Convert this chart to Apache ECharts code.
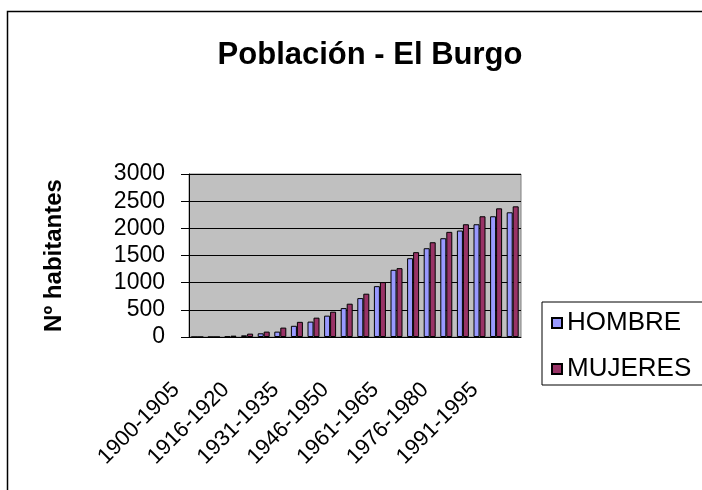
<!DOCTYPE html>
<html>
<head>
<meta charset="utf-8">
<script src="https://cdn.jsdelivr.net/npm/echarts@6/dist/echarts.min.js"></script>
<style>
    html, body { margin: 0; padding: 0; background: #fff; }
    #main { width: 702px; height: 490px; }
</style>
</head>
<body>
<div id="main"></div>
<script>
// periodos de 5 años
var periodos = ['1900-1905', '1906-1910', '1911-1915', '1916-1920', '1921-1925',
    '1926-1930', '1931-1935', '1936-1940', '1941-1945', '1946-1950',
    '1951-1955', '1956-1960', '1961-1965', '1966-1970', '1971-1975',
    '1976-1980', '1981-1985', '1986-1990', '1991-1995', '1996-2000'];
var hombre = [0, 0, 10, 31, 68, 99, 206, 283, 393, 532, 716, 936, 1237, 1450, 1634, 1818, 1959, 2075, 2222, 2295];
var mujeres = [0, 0, 25, 62, 99, 173, 279, 356, 466, 613, 797, 1010, 1267, 1561, 1744, 1935, 2075, 2222, 2368, 2405];

var font = 'Liberation Sans, Arial, sans-serif';

var myChart = echarts.init(document.getElementById('main'));
myChart.setOption({
    animation: false,
    title: {
        text: 'Población - El Burgo',
        left: 365,
        top: 35,
        textAlign: 'center',
        textStyle: { fontFamily: font, fontSize: 31, fontWeight: 'bold', color: '#000' }
    },
    graphic: [{
        type: 'rect',
        shape: { x: 7.5, y: 11.5, width: 720, height: 500 },
        style: { fill: 'none', stroke: '#000', lineWidth: 1.5 },
        silent: true
    }],
    legend: {
        orient: 'vertical',
        left: 542,
        top: 302,
        padding: [8, 40, 3, 9],
        itemGap: 20,
        itemWidth: 10,
        itemHeight: 10,
        icon: 'rect',
        borderColor: '#000',
        borderWidth: 1,
        textStyle: { fontFamily: font, fontSize: 26, lineHeight: 26, color: '#000' },
        data: ['HOMBRE', 'MUJERES']
    },
    grid: {
        left: 189,
        right: 181,
        top: 174,
        bottom: 153,
        show: true,
        backgroundColor: '#C0C0C0',
        borderColor: '#808080',
        borderWidth: 1
    },
    xAxis: {
        type: 'category',
        data: periodos,
        axisLine: { lineStyle: { color: '#000', width: 1 } },
        axisTick: { interval: 0, length: 7, lineStyle: { color: '#000' } },
        axisLabel: {
            interval: 2,
            rotate: 45,
            margin: 28,
            padding: [0, 30, 0, 0],
            fontFamily: font,
            fontSize: 22,
            color: '#000'
        }
    },
    yAxis: {
        type: 'value',
        min: 0,
        max: 3000,
        interval: 500,
        name: 'Nº habitantes',
        nameLocation: 'middle',
        nameGap: 123,
        nameTextStyle: { fontFamily: font, fontSize: 24, fontWeight: 'bold', color: '#000' },
        axisLine: { show: true, lineStyle: { color: '#000', width: 1 } },
        axisTick: { show: true, length: 8, lineStyle: { color: '#000' } },
        axisLabel: {
            margin: 24,
            fontFamily: font,
            fontSize: 23,
            color: '#000',
            formatter: function (v) { return String(v); }
        },
        splitLine: { lineStyle: { color: '#000', width: 1 } }
    },
    series: [
        {
            name: 'HOMBRE',
            type: 'bar',
            data: hombre,
            barWidth: 6,
            barGap: '0%',
            itemStyle: { color: '#9999FF', borderColor: '#000', borderWidth: 1 }
        },
        {
            name: 'MUJERES',
            type: 'bar',
            data: mujeres,
            barWidth: 6,
            barGap: '0%',
            itemStyle: { color: '#993366', borderColor: '#000', borderWidth: 1 }
        }
    ]
});
window.onresize = function () {
    myChart.resize();
};
</script>
</body>
</html>
